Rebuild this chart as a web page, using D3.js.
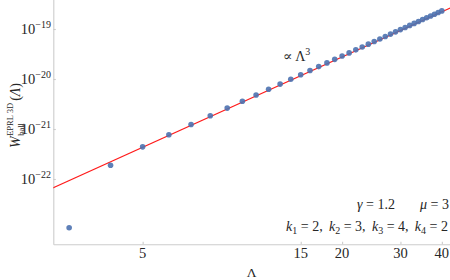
<!DOCTYPE html>
<html>
<head>
<meta charset="utf-8">
<script src="https://cdn.jsdelivr.net/npm/d3@7"></script>
<style>
  body { margin: 0; background: #fff; }
</style>
</head>
<body>
<div class="chart"></div>
<script>
// Lambda values (x) and amplitude values (y)
let lambdas = [3, 4, 5, 6, 7, 8, 9, 10, 11, 12, 13, 14, 15, 16, 17, 18, 19, 20,
  21, 22, 23, 24, 25, 26, 27, 28, 29, 30, 31, 32, 33, 34, 35, 36, 37, 38, 39, 40];
let amplitudes = [1.06e-23, 1.88e-22, 4.4e-22, 7.7e-22, 1.23e-21, 1.84e-21, 2.62e-21, 3.6e-21,
  4.79e-21, 6.22e-21, 7.91e-21, 9.88e-21, 1.215e-20, 1.475e-20, 1.769e-20, 2.10e-20,
  2.47e-20, 2.88e-20, 3.33e-20, 3.83e-20, 4.38e-20, 4.98e-20, 5.63e-20, 6.33e-20,
  7.09e-20, 7.90e-20, 8.78e-20, 9.72e-20, 1.072e-19, 1.180e-19, 1.294e-19, 1.415e-19,
  1.544e-19, 1.680e-19, 1.824e-19, 1.975e-19, 2.135e-19, 2.304e-19];

// fitted power law line (two end points)
let fitLambda = [2.6, 50];
let fitAmp = [6.06e-23, 4.31e-19];

let xTicks = [5, 15, 20, 30, 40];
let yTicks = [1e-22, 1e-21, 1e-20, 1e-19];
let yTickExp = ["\u221222", "\u221221", "\u221220", "\u221219"];

var width = 450,
    height = 280;

var left = 53.3, bottom = 244.3;
var serif = "'Liberation Serif', 'DejaVu Serif', serif";

var x = d3.scaleLog()
    .domain([2.687, 44.6])
    .range([left, 457.5]);

var y = d3.scaleLog()
    .domain([Math.pow(10, -23.306), Math.pow(10, -18.32)])
    .range([bottom, -5]);

var svg = d3.select(".chart")
    .append("svg")
    .attr("width", width)
    .attr("height", height)
    .attr("font-family", serif);

svg.append("clipPath")
    .attr("id", "plotclip")
  .append("rect")
    .attr("x", left)
    .attr("y", -10)
    .attr("width", width - left)
    .attr("height", bottom + 10);

// spines + ticks
var xAxis = svg.append("g")
    .attr("transform", "translate(0," + bottom + ")")
    .call(d3.axisBottom(x).tickValues(xTicks).tickSizeInner(-2.5).tickSizeOuter(0).tickFormat(""));

var yAxis = svg.append("g")
    .attr("transform", "translate(" + left + ",0)")
    .call(d3.axisLeft(y).tickValues(yTicks).tickSizeInner(-2.5).tickSizeOuter(0).tickFormat(""));

svg.selectAll(".domain, .tick line")
    .attr("stroke", "#cccccc")
    .attr("stroke-width", 1.1);

// all texts get the serif font and dark grey fill
function txt(sel) {
  return sel.append("text")
    .attr("font-family", serif)
    .attr("fill", "#262626");
}

// x tick labels
xTicks.forEach(function(t) {
  txt(svg)
    .attr("x", x(t))
    .attr("y", 258)
    .attr("text-anchor", "middle")
    .attr("font-size", 14.5)
    .text(t);
});

// y tick labels 10^n
yTicks.forEach(function(t, i) {
  var lab = txt(svg)
    .attr("x", 51)
    .attr("y", y(t) + 5)
    .attr("text-anchor", "end")
    .attr("font-size", 14.5);
  lab.append("tspan").text("10");
  lab.append("tspan")
    .attr("dy", -6)
    .attr("font-size", 10)
    .text(yTickExp[i]);
});

var plot = svg.append("g").attr("clip-path", "url(#plotclip)");

// fit line
var line = d3.line()
    .x((d) => x(d[0]))
    .y((d) => y(d[1]));

plot.append("path")
    .datum(d3.zip(fitLambda, fitAmp))
    .attr("d", line)
    .attr("fill", "none")
    .attr("stroke", "#ff1a1a")
    .attr("stroke-width", 1.2);

// data points
plot.selectAll("circle")
    .data(d3.zip(lambdas, amplitudes))
    .enter()
    .append("circle")
    .attr("cx", (d) => x(d[0]))
    .attr("cy", (d) => y(d[1]))
    .attr("r", 2.8)
    .attr("fill", "#4c72b0")
    .attr("opacity", 0.9);

// annotations
var prop = txt(svg)
    .attr("x", 283)
    .attr("y", 61)
    .attr("font-size", 14);
prop.append("tspan").text("\u221D \u039B");
prop.append("tspan").attr("dy", -6).attr("font-size", 10).text("3");

var g1 = txt(svg)
    .attr("x", 395)
    .attr("y", 209)
    .attr("text-anchor", "end")
    .attr("font-size", 14);
g1.append("tspan").attr("font-style", "italic").text("\u03B3");
g1.append("tspan").text(" = 1.2");

var m1 = txt(svg)
    .attr("x", 449)
    .attr("y", 209)
    .attr("text-anchor", "end")
    .attr("font-size", 14);
m1.append("tspan").attr("font-style", "italic").text("\u03BC");
m1.append("tspan").text(" = 3");

let kVals = [2, 3, 4, 2];
var kt = txt(svg)
    .attr("x", 448)
    .attr("y", 231)
    .attr("text-anchor", "end")
    .attr("font-size", 14);
kVals.forEach(function(k, i) {
  kt.append("tspan").attr("font-style", "italic").text((i > 0 ? "\u00A0\u2009" : "") + "k");
  kt.append("tspan").attr("dy", 3).attr("font-size", 10).text(i + 1);
  kt.append("tspan").attr("dy", -3).text(" = " + k + (i < 3 ? "," : ""));
});

// x label
txt(svg)
    .attr("x", 251.7)
    .attr("y", 276.5)
    .attr("text-anchor", "middle")
    .attr("font-size", 13.5)
    .text("\u039B");

// y label W^{EPRL 3D}_{ball}(Lambda), rotated
var yl = svg.append("g")
    .attr("transform", "translate(20,148) rotate(-90)");
var wt = txt(yl)
    .attr("x", 0).attr("y", 0)
    .attr("font-size", 14)
    .attr("font-style", "italic")
    .text("W");
var wW = wt.node().getComputedTextLength();
var sup = txt(yl)
    .attr("x", wW + 0.5).attr("y", -7.5)
    .attr("font-size", 8.5)
    .text("EPRL 3D");
var sub = txt(yl)
    .attr("x", wW + 0.5).attr("y", 3.5)
    .attr("font-size", 8.5)
    .text("ball");
var sw = Math.max(sup.node().getComputedTextLength(), sub.node().getComputedTextLength());
var par = txt(yl)
    .attr("x", wW + sw + 2.5).attr("y", 0)
    .attr("font-size", 14);
par.append("tspan").text("(");
par.append("tspan").attr("font-style", "italic").text("\u039B");
par.append("tspan").text(")");
</script>
</body>
</html>
